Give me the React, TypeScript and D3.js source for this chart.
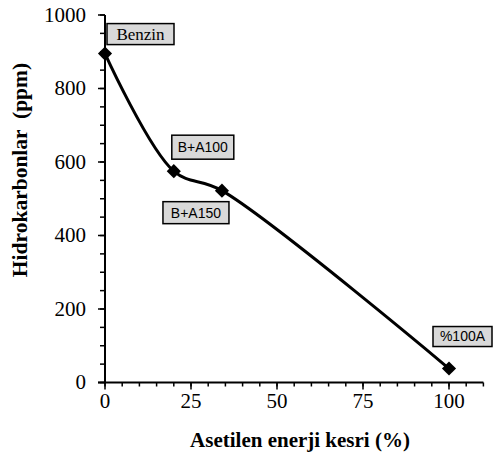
import React from "react";
import * as d3 from "d3";

const labels = ["Benzin", "B+A100", "B+A150", "%100A"];
const xValues = [0, 20, 34, 100];
const yValues = [895, 575, 522, 38];
const xTicks = [0, 25, 50, 75, 100];
const yTicks = [0, 200, 400, 600, 800, 1000];

const W = 496, H = 459;
const M = { left: 105 };

export default function App() {
  const x = d3.scaleLinear().domain([0, 110]).range([M.left, M.left + 378.4]);
  const y = d3.scaleLinear().domain([0, 1000]).range([382.5, 15]);
  const line = d3.line<number>()
    .x((_, i) => x(xValues[i]))
    .y((d) => y(d))
    .curve(d3.curveCatmullRom.alpha(0.5));
  const xMinor = d3.range(0, 111, 5);
  const yMinor = d3.range(0, 1001, 50);
  const labelBoxes = [
    { dx: 2, dy: -30, w: 67, h: 21, serif: true },
    { dx: -2, dy: -36, w: 62, h: 24, serif: false },
    { dx: -59, dy: 11, w: 66, h: 22, serif: false },
    { dx: -16, dy: -42, w: 59, h: 20, serif: false },
  ];
  return (
    <svg width={W} height={H} style={{ position: "absolute", left: 0, top: 0 }}>
      <rect width={W} height={H} fill="#fff" />
      <line x1={M.left} x2={M.left} y1={y(1000)} y2={y(0) + 1} stroke="#000" strokeWidth={2} />
      {yMinor.map((v) => (
        <line key={"ym" + v} x1={M.left - 5} x2={M.left} y1={y(v)} y2={y(v)} stroke="#000" strokeWidth={1.5} />
      ))}
      {yTicks.map((v) => (
        <g key={"yt" + v}>
          <line x1={M.left - 7} x2={M.left} y1={y(v)} y2={y(v)} stroke="#000" strokeWidth={1.5} />
          <text x={86} y={y(v)} dy="0.33em" textAnchor="end" fontFamily="Liberation Serif" fontSize={21}>{v}</text>
        </g>
      ))}
      <line x1={M.left - 7} x2={x(110)} y1={y(0)} y2={y(0)} stroke="#000" strokeWidth={2} />
      {xMinor.map((v) => (
        <line key={"xm" + v} x1={x(v)} x2={x(v)} y1={y(0)} y2={y(0) + 4} stroke="#000" strokeWidth={1.5} />
      ))}
      {xTicks.map((v) => (
        <g key={"xt" + v}>
          <line x1={x(v)} x2={x(v)} y1={y(0)} y2={y(0) + 7} stroke="#000" strokeWidth={1.5} />
          <text x={x(v)} y={408} textAnchor="middle" fontFamily="Liberation Serif" fontSize={21}>{v}</text>
        </g>
      ))}
      <text x={300} y={447} textAnchor="middle" fontFamily="Liberation Serif" fontWeight="bold" fontSize={21}>
        Asetilen enerji kesri (%)
      </text>
      <text transform={`translate(27,170) rotate(-90)`} textAnchor="middle" fontFamily="Liberation Serif"
        fontWeight="bold" fontSize={21.5} style={{ whiteSpace: "pre" }}>
        {"Hidrokarbonlar  (ppm)"}
      </text>
      <path d={line(yValues) || ""} fill="none" stroke="#000" strokeWidth={3} />
      {yValues.map((v, i) => (
        <rect key={"m" + i} x={-5} y={-5} width={10} height={10} fill="#000"
          transform={`translate(${x(xValues[i])},${y(v)}) rotate(45)`} />
      ))}
      {labels.map((t, i) => {
        const b = labelBoxes[i];
        const px = x(xValues[i]) + b.dx;
        const py = y(yValues[i]) + b.dy;
        return (
          <g key={"l" + i}>
            <rect x={px} y={py} width={b.w} height={b.h} fill="#d9d9d9" stroke="#000" strokeWidth={1.5} />
            <text x={px + b.w / 2} y={py + b.h / 2} dy="0.35em" textAnchor="middle"
              fontFamily={b.serif ? "Liberation Serif" : "Liberation Sans"} fontSize={b.serif ? 17 : 14}>{t}</text>
          </g>
        );
      })}
    </svg>
  );
}
